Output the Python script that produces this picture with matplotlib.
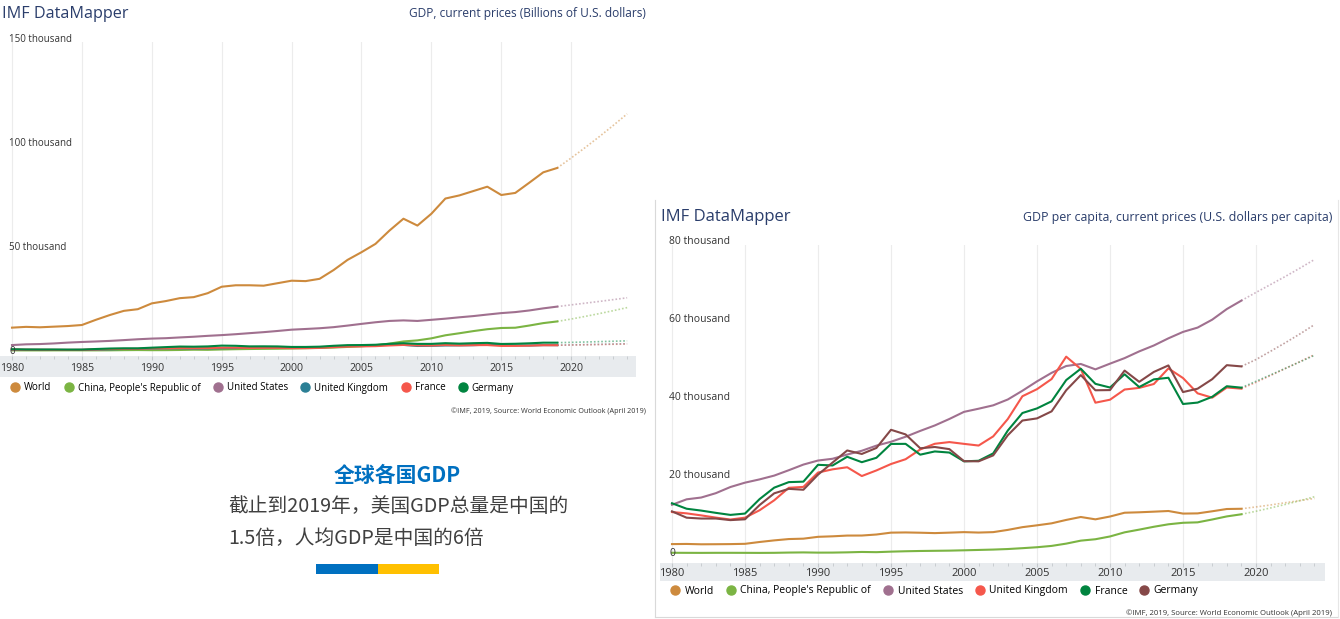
import matplotlib
matplotlib.use("Agg")
import matplotlib.pyplot as plt
from matplotlib.lines import Line2D
from matplotlib.patches import Rectangle

# ---- data (IMF WEO April 2019) ----
years = list(range(1980, 2025))
last_actual = 2019

names = ["World", "China, People's Republic of", "United States",
         "United Kingdom", "France", "Germany"]

# GDP, current prices, billions of USD
gdp_world = [11230, 11600, 11400, 11700, 12000, 12500, 15000, 17300, 19300, 20100,
             22900, 24000, 25400, 25900, 27800, 30900, 31600, 31600, 31400, 32600,
             33800, 33600, 34700, 38900, 43800, 47500, 51500, 57900, 63600, 60300,
             66000, 73300, 74800, 76900, 79000, 75000, 76000, 80900, 85900, 88000,
             92800, 97800, 103000, 108400, 114000]
gdp_china = [306, 290, 285, 305, 314, 310, 301, 327, 408, 457,
             398, 415, 494, 617, 564, 735, 863, 961, 1029, 1094,
             1211, 1339, 1471, 1660, 1955, 2286, 2752, 3550, 4594, 5102,
             6087, 7552, 8532, 9570, 10476, 11062, 11191, 12238, 13407, 14217,
             15366, 16629, 17964, 19376, 20860]
gdp_us = [2857, 3207, 3343, 3634, 4037, 4339, 4579, 4855, 5236, 5641,
          5963, 6158, 6520, 6858, 7287, 7639, 8073, 8577, 9062, 9631,
          10252, 10582, 10936, 11458, 12214, 13037, 13815, 14452, 14713, 14449,
          14992, 15543, 16197, 16785, 17522, 18219, 18707, 19485, 20494, 21345,
          22179, 22990, 23820, 24689, 25580]
gdp_uk = [604, 585, 555, 524, 497, 525, 634, 781, 966, 983,
          1196, 1247, 1283, 1155, 1242, 1342, 1415, 1563, 1652, 1684,
          1662, 1642, 1786, 2058, 2415, 2541, 2714, 3097, 2929, 2413,
          2475, 2657, 2705, 2786, 3065, 2933, 2694, 2637, 2828, 2809,
          2929, 3061, 3198, 3339, 3486]
gdp_france = [702, 627, 604, 573, 546, 566, 772, 938, 1020, 1030,
              1278, 1274, 1404, 1330, 1397, 1602, 1607, 1451, 1503, 1492,
              1368, 1383, 1500, 1849, 2124, 2204, 2325, 2663, 2923, 2694,
              2643, 2862, 2681, 2809, 2849, 2434, 2466, 2583, 2775, 2762,
              2877, 2995, 3116, 3242, 3369]
gdp_germany = [854, 727, 707, 704, 668, 677, 956, 1189, 1285, 1283,
               1598, 1869, 2135, 2074, 2206, 2592, 2503, 2218, 2244, 2197,
               1950, 1951, 2079, 2505, 2815, 2858, 3002, 3440, 3753, 3419,
               3417, 3758, 3544, 3753, 3905, 3383, 3479, 3693, 4000, 4001,
               4147, 4320, 4498, 4688, 4886]

# GDP per capita, current prices, USD
pc_world = [2530, 2570, 2480, 2500, 2530, 2600, 3070, 3480, 3820, 3920,
            4390, 4520, 4710, 4720, 4980, 5460, 5510, 5440, 5340, 5460,
            5590, 5480, 5590, 6160, 6860, 7330, 7840, 8710, 9460, 8860,
            9580, 10550, 10660, 10820, 10990, 10330, 10380, 10920, 11500, 11560,
            12030, 12530, 13100, 13650, 14190]
pc_china = [311, 297, 285, 301, 303, 295, 281, 301, 368, 406,
            350, 360, 423, 520, 469, 604, 701, 771, 817, 861,
            945, 1038, 1132, 1270, 1487, 1730, 2069, 2652, 3414, 3772,
            4481, 5539, 6229, 6959, 7591, 7977, 8093, 8819, 9608, 10153,
            10927, 11770, 12667, 13620, 14635]
pc_us = [12575, 13976, 14434, 15544, 17121, 18237, 19071, 20039, 21417, 22857,
         23889, 24342, 25419, 26387, 27695, 28691, 29968, 31459, 32854, 34515,
         36330, 37134, 37998, 39490, 41725, 44123, 46302, 48050, 48570, 47195,
         48651, 50066, 51784, 53291, 55124, 56763, 57867, 59895, 62606, 64767,
         66857, 68877, 70922, 73047, 75250]
pc_uk = [10722, 10389, 9868, 9302, 8809, 9287, 11184, 13725, 16922, 17150,
         20813, 21643, 22171, 19925, 21359, 23000, 24226, 26718, 28171, 28607,
         28150, 27721, 30060, 34499, 40324, 42128, 44718, 50440, 47287, 38675,
         39435, 42038, 42462, 43444, 47439, 44974, 41064, 39954, 42558, 42261,
         43870, 45630, 47400, 49150, 50950]
pc_france = [12974, 11570, 11097, 10518, 9994, 10337, 14031, 16958, 18371, 18490,
             22794, 22628, 24850, 23467, 24589, 28130, 28151, 25386, 26212, 25928,
             23688, 23829, 25711, 31554, 36036, 37212, 39033, 44454, 47351, 43492,
             42550, 45933, 42672, 44637, 45041, 38340, 38701, 40177, 42878, 42512,
             44130, 45770, 47420, 49100, 50780]
pc_germany = [10905, 9281, 9062, 9066, 8660, 8867, 12512, 15509, 16651, 16423,
              20276, 23379, 26464, 25569, 27103, 31745, 30567, 27029, 27351, 26801,
              23722, 23687, 25205, 30360, 34112, 34659, 36459, 41854, 45724, 41846,
              41896, 46878, 44005, 46531, 48197, 41388, 42251, 44681, 48264, 47947,
              49700, 51820, 53980, 56230, 58610]

gdp_ticks = [0, 50000, 100000, 150000]
gdp_ticklabels = ["0", "50 thousand", "100 thousand", "150 thousand"]
pc_ticks = [0, 20000, 40000, 60000, 80000]
pc_ticklabels = ["0", "20 thousand", "40 thousand", "60 thousand", "80 thousand"]
year_ticks = list(range(1980, 2021, 5))

left_colors = ["#cd8a3d", "#7bb443", "#a0708f", "#2b7f95", "#f5574b", "#00843f"]
right_colors = ["#cd8a3d", "#7bb443", "#a0708f", "#f5574b", "#00843f", "#854848"]

navy = "#2a3d6b"
font = "Open Sans"
cjk = ["Noto Sans CJK SC", "DejaVu Sans"]

W, H = 1340, 619
fig = plt.figure(figsize=(W / 100, H / 100), dpi=100)
fig.patch.set_facecolor("white")


def box(x0, y0, x1, y1):
    # pixel box (top-left origin) -> figure fraction rect
    return [x0 / W, 1 - y1 / H, (x1 - x0) / W, (y1 - y0) / H]


def draw_chart(plot_px, band_px, xlim, ylim, series, colors, ticks, ticklabels,
               title, subtitle, title_px, legend_px, credit_px, sc,
               title_fs, sub_fs):
    ax = fig.add_axes(box(*plot_px))
    ax.set_xlim(*xlim)
    ax.set_ylim(*ylim)
    for s in ax.spines.values():
        s.set_visible(False)
    ax.set_xticks(year_ticks)
    ax.set_yticks([])
    ax.tick_params(axis="x", length=0, labelbottom=False)
    ax.grid(axis="x", color="#ececec", lw=0.8)

    ia = years.index(last_actual)
    for vals, c in zip(series, colors):
        ax.plot(years[:ia + 1], vals[:ia + 1], color=c, lw=1.5, zorder=3,
                solid_joinstyle="round")
        ax.plot(years[ia:], vals[ia:], color=c, lw=1.2, alpha=0.5,
                ls=(0, (1, 1.2)), zorder=2)

    x_lab = xlim[0] + 0.65
    for v, lab in zip(ticks, ticklabels):
        ax.text(x_lab, v, lab, ha="left", va="center", fontsize=7.5 * sc,
                family=font, color="#333333", clip_on=False, zorder=4)

    bx = fig.add_axes(box(*band_px))
    bx.set_facecolor("#e8ebee")
    bx.set_xlim(*xlim)
    bx.set_ylim(0, 1)
    for s in bx.spines.values():
        s.set_visible(False)
    bx.set_yticks([])
    bx.set_xticks(year_ticks)
    bx.set_xticks(years, minor=True)
    bx.tick_params(axis="x", which="both", bottom=False, top=True,
                   direction="in", labelbottom=False, color="#c4c8cc")
    bx.tick_params(axis="x", which="major", length=3)
    bx.tick_params(axis="x", which="minor", length=2)
    for yr in year_ticks:
        bx.text(yr, 0.42, str(yr), ha="center", va="center", fontsize=8 * sc,
                family=font, color="#333333")

    fig.text(title_px[0] / W, 1 - title_px[1] / H, title, ha="left",
             va="center", fontsize=title_fs, family=font, color=navy)
    fig.text(title_px[2] / W, 1 - title_px[1] / H, subtitle, ha="right",
             va="center", fontsize=sub_fs, family=font, color=navy)

    handles = [Line2D([], [], marker="o", ls="none", color=c, markersize=6.5)
               for c in colors]
    fig.legend(handles, names, loc="center left",
               bbox_to_anchor=(legend_px[0] / W, 1 - legend_px[1] / H),
               ncol=6, frameon=False, handlelength=0.8,
               handletextpad=0.5, columnspacing=legend_px[2], borderpad=0,
               borderaxespad=0, prop={"family": font, "size": 7.5 * sc})

    fig.text(credit_px[0] / W, 1 - credit_px[1] / H,
             "\u00a9IMF, 2019, Source: World Economic Outlook (April 2019)",
             ha="right", va="center", fontsize=5.6 * sc, family=font,
             color="#333333")
    return ax


# ---- left chart: GDP ----
px_yr_l = 69.9 / 5
draw_chart(plot_px=(0, 42, 636, 356), band_px=(0, 356, 636, 377),
           xlim=(1980 - 12 / px_yr_l, 1980 + 624 / px_yr_l),
           ylim=(-5 / 104 * 50000, 309 / 104 * 50000),
           series=[gdp_world, gdp_china, gdp_us, gdp_uk, gdp_france, gdp_germany],
           colors=left_colors, ticks=gdp_ticks, ticklabels=gdp_ticklabels,
           title="IMF DataMapper",
           subtitle="GDP, current prices (Billions of U.S. dollars)",
           title_px=(2, 14, 646), legend_px=(11, 388, 1.4), credit_px=(646, 411),
           sc=0.94, title_fs=11.6, sub_fs=8.6)

# ---- right chart: GDP per capita ----
px_yr_r = 73.0 / 5
draw_chart(plot_px=(660, 245, 1325, 563), band_px=(660, 563, 1325, 581),
           xlim=(1980 - 12 / px_yr_r, 1980 + 653 / px_yr_r),
           ylim=(-9 / 78.25 * 20000, 309 / 78.25 * 20000),
           series=[pc_world, pc_china, pc_us, pc_uk, pc_france, pc_germany],
           colors=right_colors, ticks=pc_ticks, ticklabels=pc_ticklabels,
           title="IMF DataMapper",
           subtitle="GDP per capita, current prices (U.S. dollars per capita)",
           title_px=(661, 217, 1332), legend_px=(671, 591, 1.25),
           credit_px=(1332, 613), sc=1.0, title_fs=12.0, sub_fs=8.9)

# frame around the right panel
fig.add_artist(Line2D([655 / W, 655 / W], [1 - 200 / H, 1 - 617 / H],
                      color="#d9d9d9", lw=0.8))
fig.add_artist(Line2D([655 / W, 1338 / W], [1 - 617 / H, 1 - 617 / H],
                      color="#d9d9d9", lw=0.8))
fig.add_artist(Line2D([1338 / W, 1338 / W], [1 - 200 / H, 1 - 617 / H],
                      color="#e6e6e6", lw=0.8))

# ---- centre note ----
fig.text(397 / W, 1 - 476 / H, "全球各国GDP", ha="center", va="center",
         fontsize=15, fontweight="bold", family=cjk, color="#0070c0")
fig.text(228 / W, 1 - 507 / H, "截止到2019年，美国GDP总量是中国的",
         ha="left", va="center", fontsize=14.2, family=cjk, color="#404040")
fig.text(228 / W, 1 - 538 / H, "1.5倍，人均GDP是中国的6倍",
         ha="left", va="center", fontsize=14.2, family=cjk, color="#404040")
fig.add_artist(Rectangle((316 / W, 1 - 574 / H), 62 / W, 10 / H,
                         color="#0070c0", lw=0))
fig.add_artist(Rectangle((378 / W, 1 - 574 / H), 61 / W, 10 / H,
                         color="#ffc000", lw=0))

fig.savefig("out.png", dpi=100)
